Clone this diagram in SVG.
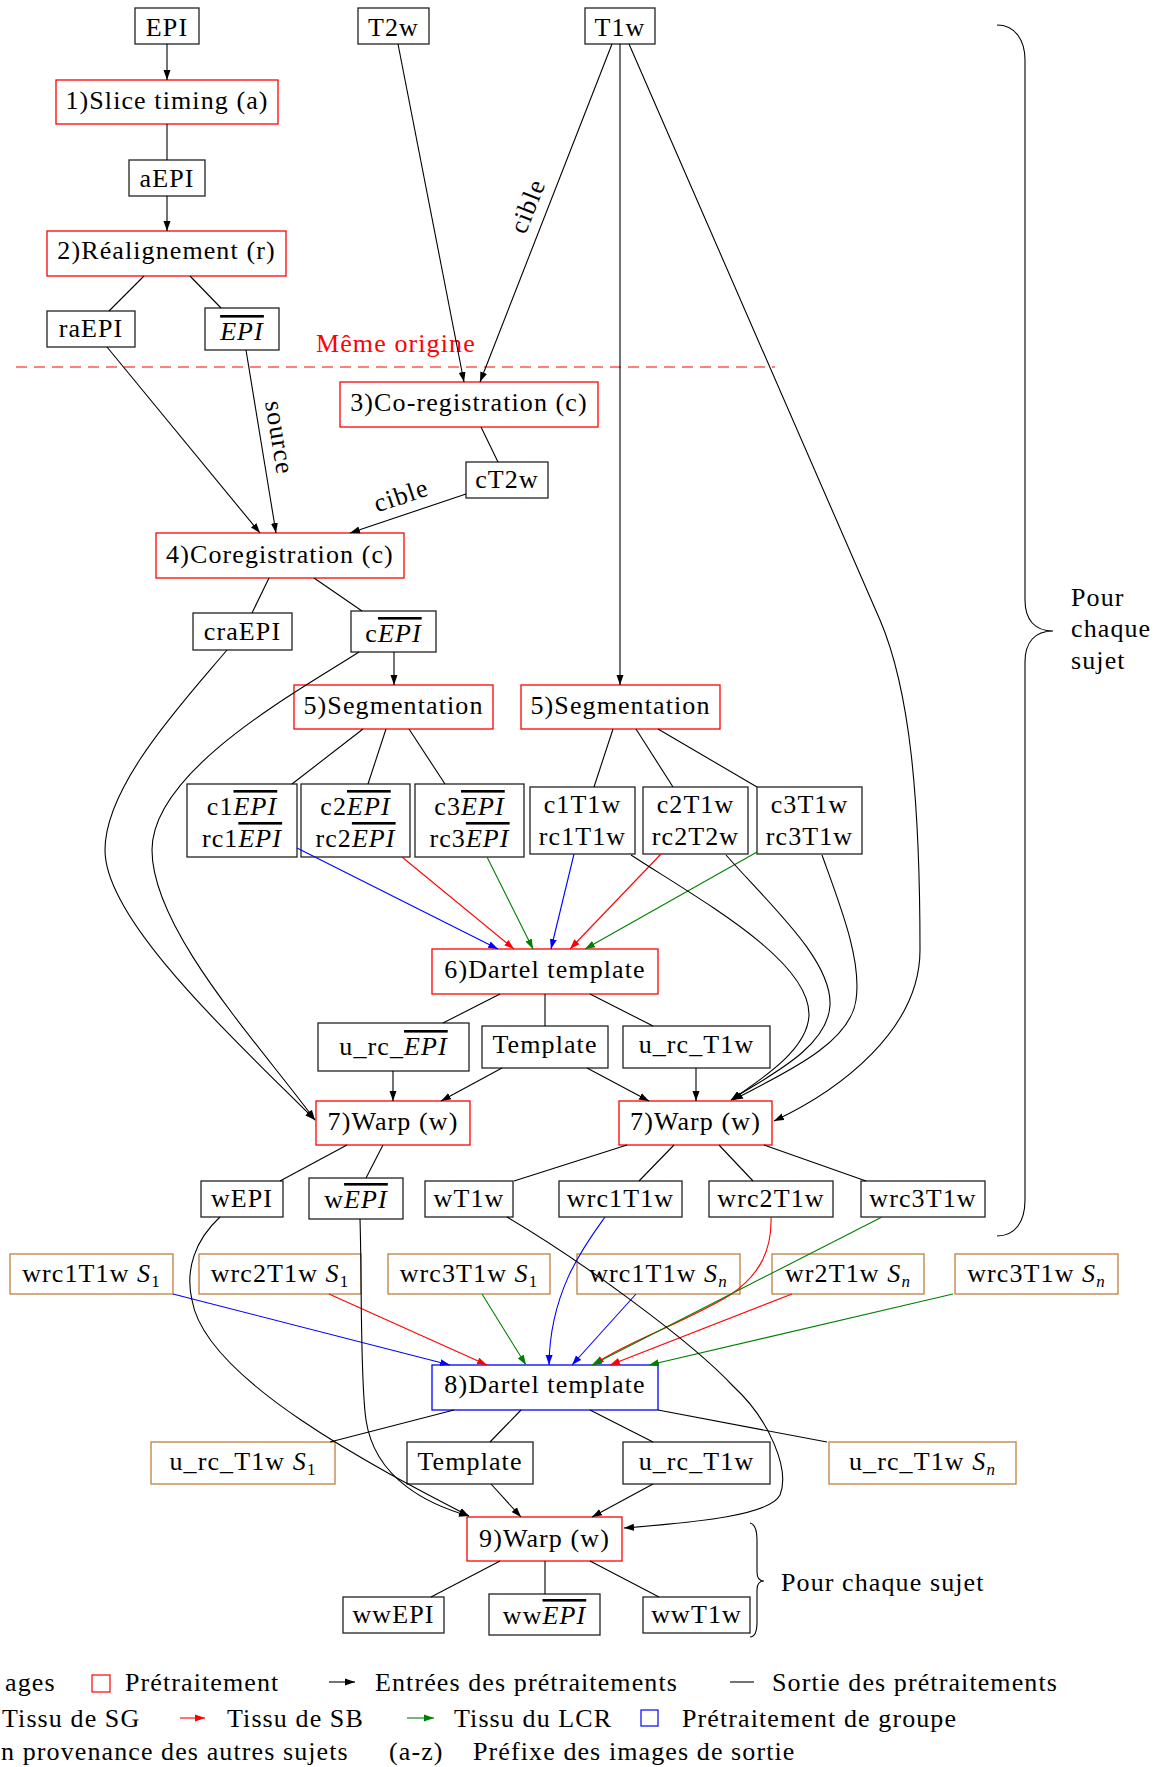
<svg xmlns="http://www.w3.org/2000/svg" width="1163" height="1767" viewBox="0 0 1163 1767">
<defs>
<style>
text{font-family:'Liberation Serif','DejaVu Serif',serif;font-size:26px;letter-spacing:1.1px;fill:#000}
.n rect{fill:none;stroke:#222;stroke-width:1.3}
.n.r rect{stroke:#f00}
.n.b rect{stroke:#00f}
.n.o rect{stroke:#BF8040}
.n text{text-anchor:middle}
.ov{font-style:italic;text-decoration:overline;text-decoration-thickness:1px}
.it{font-style:italic}
.c path,.c line{fill:none;stroke:#000;stroke-width:1.1}
.c .a{marker-end:url(#ak)}
.c .bl{stroke:#00f;marker-end:url(#abl)}
.c .rd{stroke:#f00;marker-end:url(#ard)}
.c .gr{stroke:#008000;marker-end:url(#agr)}
.lbl{text-anchor:middle}
</style>
<marker id="ak" markerWidth="10" markerHeight="8" refX="10" refY="4" orient="auto" markerUnits="userSpaceOnUse"><path d="M0,0.5 L10,4 L0,7.5 z" fill="#000"/></marker>
<marker id="abl" markerWidth="10" markerHeight="8" refX="10" refY="4" orient="auto" markerUnits="userSpaceOnUse"><path d="M0,0.5 L10,4 L0,7.5 z" fill="#00f"/></marker>
<marker id="ard" markerWidth="10" markerHeight="8" refX="10" refY="4" orient="auto" markerUnits="userSpaceOnUse"><path d="M0,0.5 L10,4 L0,7.5 z" fill="#f00"/></marker>
<marker id="agr" markerWidth="10" markerHeight="8" refX="10" refY="4" orient="auto" markerUnits="userSpaceOnUse"><path d="M0,0.5 L10,4 L0,7.5 z" fill="#008000"/></marker>
</defs>
<rect x="0" y="0" width="1163" height="1767" fill="#fff"/>

<!-- nodes -->
<g id="n_EPI" class="n"><rect x="135" y="8" width="64" height="36"/><text x="167" y="36">EPI</text></g>
<g id="n_T2w" class="n"><rect x="358" y="8" width="71" height="36"/><text x="393.5" y="36">T2w</text></g>
<g id="n_T1w" class="n"><rect x="585" y="8" width="70" height="36"/><text x="620" y="36">T1w</text></g>
<g id="n_slice" class="n r"><rect x="56" y="80" width="222" height="44"/><text x="167" y="109">1)Slice timing (a)</text></g>
<g id="n_aEPI" class="n"><rect x="129" y="160" width="76" height="36"/><text x="167" y="187">aEPI</text></g>
<g id="n_realign" class="n r"><rect x="47" y="231" width="239" height="45"/><text x="166.5" y="259">2)Réalignement (r)</text></g>
<g id="n_raEPI" class="n"><rect x="47" y="311" width="88" height="36"/><text x="91" y="337">raEPI</text></g>
<g id="n_EPIbar" class="n"><rect x="205" y="308" width="74" height="42"/><text x="242" y="340"><tspan class="ov">EPI</tspan></text></g>
<g id="n_coreg3" class="n r"><rect x="340" y="382" width="258" height="45"/><text x="469" y="411">3)Co-registration (c)</text></g>
<g id="n_cT2w" class="n"><rect x="466" y="462" width="82" height="36"/><text x="507" y="488">cT2w</text></g>
<g id="n_coreg4" class="n r"><rect x="156" y="533" width="248" height="45"/><text x="280" y="563">4)Coregistration (c)</text></g>
<g id="n_craEPI" class="n"><rect x="193" y="613" width="99" height="37"/><text x="242.5" y="640">craEPI</text></g>
<g id="n_cEPIbar" class="n"><rect x="351" y="611" width="85" height="41"/><text x="393.5" y="642">c<tspan class="ov">EPI</tspan></text></g>
<g id="n_seg5L" class="n r"><rect x="294" y="685" width="199" height="44"/><text x="393.5" y="714">5)Segmentation</text></g>
<g id="n_seg5R" class="n r"><rect x="521" y="685" width="199" height="44"/><text x="620.5" y="714">5)Segmentation</text></g>
<g id="n_c1EPI" class="n"><rect x="187" y="784" width="110" height="73"/><text x="242" y="815">c1<tspan class="ov">EPI</tspan></text><text x="242" y="847">rc1<tspan class="ov">EPI</tspan></text></g>
<g id="n_c2EPI" class="n"><rect x="301" y="784" width="109" height="73"/><text x="355.5" y="815">c2<tspan class="ov">EPI</tspan></text><text x="355.5" y="847">rc2<tspan class="ov">EPI</tspan></text></g>
<g id="n_c3EPI" class="n"><rect x="415" y="784" width="109" height="73"/><text x="469.5" y="815">c3<tspan class="ov">EPI</tspan></text><text x="469.5" y="847">rc3<tspan class="ov">EPI</tspan></text></g>
<g id="n_c1T1w" class="n"><rect x="530" y="787" width="105" height="67"/><text x="582.5" y="813">c1T1w</text><text x="582.5" y="845">rc1T1w</text></g>
<g id="n_c2T1w" class="n"><rect x="643" y="787" width="105" height="67"/><text x="695.5" y="813">c2T1w</text><text x="695.5" y="845">rc2T2w</text></g>
<g id="n_c3T1w" class="n"><rect x="757" y="787" width="105" height="67"/><text x="809.5" y="813">c3T1w</text><text x="809.5" y="845">rc3T1w</text></g>
<g id="n_dartel6" class="n r"><rect x="432" y="949" width="226" height="45"/><text x="545" y="978">6)Dartel template</text></g>
<g id="n_urcEPI" class="n"><rect x="318" y="1023" width="151" height="48"/><text x="393.5" y="1055">u_rc_<tspan class="ov">EPI</tspan></text></g>
<g id="n_template6" class="n"><rect x="482" y="1026" width="126" height="42"/><text x="545" y="1053">Template</text></g>
<g id="n_urcT1w6" class="n"><rect x="623" y="1026" width="147" height="42"/><text x="696.5" y="1053">u_rc_T1w</text></g>
<g id="n_warp7L" class="n r"><rect x="316" y="1101" width="154" height="44"/><text x="393" y="1130">7)Warp (w)</text></g>
<g id="n_warp7R" class="n r"><rect x="619" y="1101" width="153" height="44"/><text x="695.5" y="1130">7)Warp (w)</text></g>
<g id="n_wEPI" class="n"><rect x="201" y="1181" width="82" height="36"/><text x="242" y="1207">wEPI</text></g>
<g id="n_wEPIbar" class="n"><rect x="309" y="1178" width="94" height="41"/><text x="356" y="1208">w<tspan class="ov">EPI</tspan></text></g>
<g id="n_wT1w" class="n"><rect x="425" y="1181" width="88" height="36"/><text x="469" y="1207">wT1w</text></g>
<g id="n_wrc1T1w" class="n"><rect x="559" y="1181" width="123" height="36"/><text x="620.5" y="1207">wrc1T1w</text></g>
<g id="n_wrc2T1w" class="n"><rect x="709" y="1181" width="124" height="36"/><text x="771" y="1207">wrc2T1w</text></g>
<g id="n_wrc3T1w" class="n"><rect x="861" y="1181" width="124" height="36"/><text x="923" y="1207">wrc3T1w</text></g>
<g id="n_wrc1S1" class="n o"><rect x="10" y="1254" width="163" height="40"/><text x="91.5" y="1282">wrc1T1w <tspan class="it">S</tspan><tspan font-size="17" dy="5">1</tspan></text></g>
<g id="n_wrc2S1" class="n o"><rect x="199" y="1254" width="162" height="40"/><text x="280" y="1282">wrc2T1w <tspan class="it">S</tspan><tspan font-size="17" dy="5">1</tspan></text></g>
<g id="n_wrc3S1" class="n o"><rect x="388" y="1254" width="162" height="40"/><text x="469" y="1282">wrc3T1w <tspan class="it">S</tspan><tspan font-size="17" dy="5">1</tspan></text></g>
<g id="n_wrc1Sn" class="n o"><rect x="577" y="1254" width="163" height="40"/><text x="658.5" y="1282">wrc1T1w <tspan class="it">S</tspan><tspan class="it" font-size="17" dy="5">n</tspan></text></g>
<g id="n_wr2Sn" class="n o"><rect x="772" y="1254" width="152" height="40"/><text x="848" y="1282">wr2T1w <tspan class="it">S</tspan><tspan class="it" font-size="17" dy="5">n</tspan></text></g>
<g id="n_wrc3Sn" class="n o"><rect x="955" y="1254" width="163" height="40"/><text x="1036.5" y="1282">wrc3T1w <tspan class="it">S</tspan><tspan class="it" font-size="17" dy="5">n</tspan></text></g>
<g id="n_dartel8" class="n b"><rect x="432" y="1365" width="226" height="45"/><text x="545" y="1393">8)Dartel template</text></g>
<g id="n_urcS1" class="n o"><rect x="151" y="1442" width="184" height="42"/><text x="243" y="1470">u_rc_T1w <tspan class="it">S</tspan><tspan font-size="17" dy="5">1</tspan></text></g>
<g id="n_template8" class="n"><rect x="407" y="1442" width="126" height="42"/><text x="470" y="1470">Template</text></g>
<g id="n_urcT1w8" class="n"><rect x="623" y="1442" width="147" height="42"/><text x="696.5" y="1470">u_rc_T1w</text></g>
<g id="n_urcSn" class="n o"><rect x="829" y="1442" width="187" height="42"/><text x="922.5" y="1470">u_rc_T1w <tspan class="it">S</tspan><tspan class="it" font-size="17" dy="5">n</tspan></text></g>
<g id="n_warp9" class="n r"><rect x="467" y="1517" width="155" height="44"/><text x="544.5" y="1547">9)Warp (w)</text></g>
<g id="n_wwEPI" class="n"><rect x="343" y="1597" width="101" height="36"/><text x="393.5" y="1623">wwEPI</text></g>
<g id="n_wwEPIbar" class="n"><rect x="489" y="1594" width="111" height="41"/><text x="544.5" y="1624">ww<tspan class="ov">EPI</tspan></text></g>
<g id="n_wwT1w" class="n"><rect x="643" y="1597" width="107" height="36"/><text x="696.5" y="1623">wwT1w</text></g>

<!-- same-origin marker -->
<g id="origine">
<line x1="16" y1="367" x2="775" y2="367" stroke="#f00" stroke-width="1.1" stroke-dasharray="11 7"/>
<text x="316" y="352" style="fill:#f00">Même origine</text>
</g>

<!-- connectors -->
<g id="connectors" class="c">
<line class="a" x1="167" y1="44" x2="167" y2="80"/>
<line x1="167" y1="124" x2="167" y2="160"/>
<line class="a" x1="167" y1="196" x2="167" y2="231"/>
<line x1="144" y1="276" x2="109" y2="311"/>
<line x1="190" y1="276" x2="221" y2="308"/>
<line class="a" x1="398" y1="44" x2="464" y2="382"/>
<line class="a" x1="612" y1="44" x2="480" y2="382"/>
<line class="a" x1="620" y1="44" x2="620" y2="685"/>
<line x1="481" y1="427" x2="498" y2="462"/>
<line class="a" x1="107" y1="347" x2="260" y2="533"/>
<line class="a" x1="246" y1="350" x2="276" y2="533"/>
<line class="a" x1="466" y1="494" x2="350" y2="533"/>
<line x1="269" y1="578" x2="252" y2="613"/>
<line x1="314" y1="578" x2="362" y2="611"/>
<line class="a" x1="394" y1="652" x2="394" y2="685"/>
<line x1="363" y1="729" x2="292" y2="784"/>
<line x1="386" y1="729" x2="368" y2="784"/>
<line x1="409" y1="729" x2="445" y2="784"/>
<line x1="613" y1="729" x2="594" y2="787"/>
<line x1="636" y1="729" x2="673" y2="787"/>
<line x1="658" y1="729" x2="757" y2="787"/>
<line class="bl" x1="297" y1="848" x2="498" y2="949"/>
<line class="rd" x1="402" y1="857" x2="514" y2="949"/>
<line class="gr" x1="487" y1="857" x2="533" y2="949"/>
<line class="bl" x1="574" y1="854" x2="551" y2="949"/>
<line class="rd" x1="661" y1="854" x2="570" y2="949"/>
<line class="gr" x1="757" y1="852" x2="585" y2="949"/>
<path class="a" d="M227,650 C185,700 105,785 105,850 C105,920 230,1035 315,1120"/>
<path class="a" d="M359,652 C300,690 152,770 152,850 C152,930 260,1045 315,1120"/>
<path class="a" d="M631,855 C700,900 810,960 809,1015 C808,1050 760,1080 731,1100"/>
<path class="a" d="M726,855 C770,905 832,960 830,1005 C828,1050 760,1080 731,1100"/>
<path class="a" d="M822,855 C840,905 862,960 856,1000 C850,1045 780,1075 733,1100"/>
<path class="a" d="M629,44 L880,620 C910,690 920,800 920,950 C920,1030 840,1090 774,1121"/>
<line x1="500" y1="994" x2="443" y2="1023"/>
<line x1="545" y1="994" x2="545" y2="1026"/>
<line x1="590" y1="994" x2="653" y2="1026"/>
<line class="a" x1="393" y1="1071" x2="393" y2="1101"/>
<line class="a" x1="502" y1="1068" x2="441" y2="1101"/>
<line class="a" x1="587" y1="1068" x2="649" y2="1101"/>
<line class="a" x1="696" y1="1068" x2="696" y2="1101"/>
<line x1="347" y1="1145" x2="280" y2="1181"/>
<line x1="383" y1="1145" x2="366" y2="1178"/>
<line x1="627" y1="1145" x2="514" y2="1181"/>
<line x1="674" y1="1145" x2="639" y2="1181"/>
<line x1="719" y1="1145" x2="753" y2="1181"/>
<line x1="764" y1="1145" x2="866" y2="1181"/>
<line class="bl" x1="173" y1="1294" x2="450" y2="1365"/>
<line class="rd" x1="329" y1="1294" x2="487" y2="1365"/>
<line class="gr" x1="482" y1="1294" x2="526" y2="1365"/>
<path class="bl" d="M605,1217 C585,1245 550,1290 549,1365"/>
<line class="bl" x1="636" y1="1294" x2="572" y2="1365"/>
<path class="rd" d="M771,1217 C772,1250 760,1275 730,1295 C690,1320 620,1345 594,1365"/>
<line class="gr" x1="882" y1="1217" x2="592" y2="1365"/>
<line class="rd" x1="792" y1="1294" x2="610" y2="1365"/>
<line class="gr" x1="953" y1="1294" x2="649" y2="1365"/>
<line x1="454" y1="1410" x2="330" y2="1442"/>
<line x1="521" y1="1410" x2="490" y2="1442"/>
<line x1="590" y1="1410" x2="653" y2="1442"/>
<line x1="658" y1="1410" x2="827" y2="1442"/>
<line class="a" x1="491" y1="1484" x2="521" y2="1517"/>
<line class="a" x1="653" y1="1484" x2="592" y2="1517"/>
<path class="a" d="M220,1217 C195,1240 185,1270 192,1300 C205,1380 380,1470 469,1516"/>
<path class="a" d="M360,1219 C362,1280 360,1380 366,1420 C375,1480 430,1505 469,1516"/>
<path class="a" d="M507,1217 C580,1260 690,1340 733,1386 C770,1420 790,1470 780,1495 C770,1515 700,1522 624,1528"/>
<line x1="500" y1="1561" x2="431" y2="1597"/>
<line x1="545" y1="1561" x2="545" y2="1594"/>
<line x1="590" y1="1561" x2="659" y2="1597"/>
</g>

<!-- edge labels -->
<g id="edge_labels">
<text class="lbl" transform="translate(530,207) rotate(-68.6)" x="0" y="6">cible</text>
<text class="lbl" transform="translate(277,438) rotate(80.7)" x="0" y="6">source</text>
<text class="lbl" transform="translate(402,498) rotate(-18.6)" x="0" y="6">cible</text>
</g>

<!-- braces -->
<g id="brace_top">
<path d="M997,25 C1015,25 1025,40 1025,60 L1025,600 C1025,620 1035,631 1053,631 C1035,631 1025,642 1025,662 L1025,1200 C1025,1222 1015,1236 997,1236" fill="none" stroke="#000" stroke-width="1.1"/>
<text x="1071" y="606">Pour</text>
<text x="1071" y="637">chaque</text>
<text x="1071" y="669">sujet</text>
</g>
<g id="brace_bottom">
<path d="M750,1523 C755,1524 757,1530 757,1540 L757,1572 C757,1578 759,1581 764,1581 C759,1581 757,1584 757,1590 L757,1622 C757,1632 755,1637 750,1637" fill="none" stroke="#000" stroke-width="1.1"/>
<text x="781" y="1591">Pour chaque sujet</text>
</g>

<!-- legend -->
<g id="legend">
<text x="5" y="1691">ages</text>
<rect x="92" y="1675" width="18" height="17" fill="none" stroke="#f00" stroke-width="1.2"/>
<text x="125" y="1691">Prétraitement</text>
<line x1="329" y1="1682" x2="355" y2="1682" stroke="#000" stroke-width="1.1" marker-end="url(#ak)"/>
<text x="375" y="1691">Entrées des prétraitements</text>
<line x1="730" y1="1682" x2="754" y2="1682" stroke="#000" stroke-width="1.1"/>
<text x="772" y="1691">Sortie des prétraitements</text>
<text x="2" y="1727">Tissu de SG</text>
<line x1="180" y1="1718" x2="205" y2="1718" stroke="#f00" stroke-width="1.1" marker-end="url(#ard)"/>
<text x="227" y="1727">Tissu de SB</text>
<line x1="407" y1="1718" x2="434" y2="1718" stroke="#008000" stroke-width="1.1" marker-end="url(#agr)"/>
<text x="454" y="1727">Tissu du LCR</text>
<rect x="641" y="1710" width="17" height="16" fill="none" stroke="#00f" stroke-width="1.2"/>
<text x="682" y="1727">Prétraitement de groupe</text>
<text x="1" y="1760">n provenance des autres sujets</text>
<text x="389" y="1760">(a-z)</text>
<text x="473" y="1760">Préfixe des images de sortie</text>
</g>
</svg>
